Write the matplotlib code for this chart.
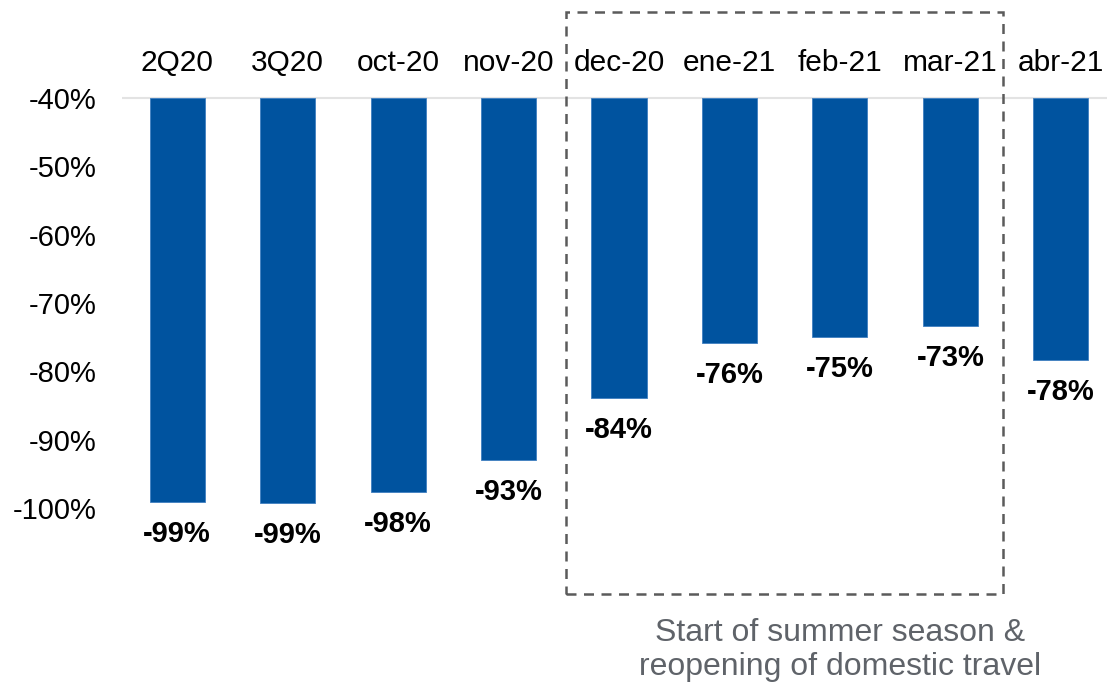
import matplotlib
matplotlib.use("Agg")
import matplotlib.pyplot as plt
from matplotlib.patches import Rectangle

# Data
periods = ["2Q20", "3Q20", "oct-20", "nov-20", "dec-20", "ene-21", "feb-21", "mar-21", "abr-21"]
values = [-99.1, -99.3, -97.7, -93.0, -83.9, -75.9, -75.0, -73.4, -78.3]
labels = ["-99%", "-99%", "-98%", "-93%", "-84%", "-76%", "-75%", "-73%", "-78%"]
yticks = [-100, -90, -80, -70, -60, -50, -40]
note = "Start of summer season &\nreopening of domestic travel"

plt.rcParams["font.family"] = ["Liberation Sans", "DejaVu Sans"]

bar_color = "#00539F"
base = -40

fig = plt.figure(figsize=(11.07, 6.82), dpi=100)
ax = fig.add_axes([122 / 1107, 0, (1116 - 122) / 1107, 1])

x = list(range(len(periods)))
heights = [v - base for v in values]
ax.bar(x, heights, bottom=base, width=0.5, color=bar_color, edgecolor="#3f7fc0", linewidth=0.6, zorder=3)

ax.axhline(base, color="#e3e3e3", linewidth=1.5, zorder=1)

# category labels above the baseline
for i, p in enumerate(periods):
    ax.annotate(p, xy=(i, base), xytext=(0, 25), textcoords="offset points",
                ha="center", va="center", fontsize=21.5, color="black")

# value labels under each bar
for i, (v, lab) in enumerate(zip(values, labels)):
    ax.annotate(lab, xy=(i, v), xytext=(0, -23), textcoords="offset points",
                ha="center", va="center", fontsize=21, fontweight="bold", color="black")

# dashed box around dec-20..mar-21
box = Rectangle((3.52, -112.6), 3.96, 85.2, fill=False, edgecolor="#5b5b5b",
                linestyle=(0, (4, 3)), linewidth=1.8, clip_on=False, zorder=4)
ax.add_patch(box)
ax.text(6.0, -120.8, note, ha="center", va="center", fontsize=23,
        color="#5f6369", linespacing=1.18)

ax.set_xlim(-0.5, len(periods) - 0.5)
ax.set_ylim(-125.47, -25.66)
ax.set_yticks(yticks)
ax.set_yticklabels([f"{t}%" for t in yticks])
ax.tick_params(axis="y", length=0, pad=18, labelsize=21)
ax.set_xticks([])
for s in ax.spines.values():
    s.set_visible(False)

fig.savefig("out.png", dpi=100)
